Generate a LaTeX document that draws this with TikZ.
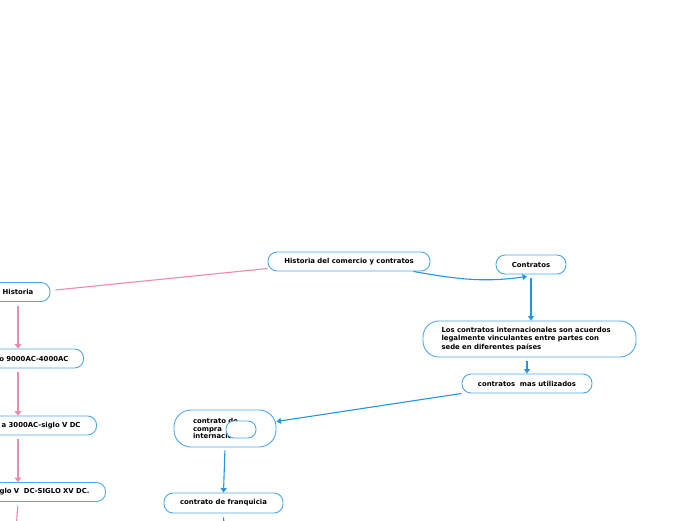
\documentclass[tikz,border=0pt]{standalone}
\usepackage{fontspec}
\setmainfont{DejaVu Sans}
\usepackage{xcolor}
\usetikzlibrary{arrows.meta}
\definecolor{boxblue}{HTML}{4AA8EC}
\definecolor{linkblue}{HTML}{2496E0}
\definecolor{linkpink}{HTML}{F088B0}

\begin{document}
\begin{tikzpicture}[x=1pt,y=-1pt,
    topic/.style={draw=boxblue, line width=0.9pt, rounded corners=9pt, fill=white,
      font=\fontsize{6.9}{8.3}\selectfont\bfseries, minimum height=19pt, inner sep=0pt},
    bluelink/.style={draw=linkblue, line width=1.1pt, -{Triangle[width=6pt,length=4.5pt]}},
    pinklink/.style={draw=linkpink, line width=1.1pt, -{Triangle[width=7pt,length=4.5pt]}}]
                \useasboundingbox (0,0) rectangle (696,520);
                % Draw the mind map of contracts and trade history
                \node[topic, minimum width=162pt] (root) at (349,261.5) {Historia del comercio y contratos};
                \node[topic, minimum width=70pt] (contratos) at (531,264.5) {Contratos};
                \node[topic, minimum width=213pt, minimum height=36pt, rounded corners=16pt, text width=176pt, align=left] (defin) at (529.5,339) {Los contratos internacionales son acuerdos\\legalmente vinculantes entre partes con\\sede en diferentes pa\'{\i}ses};
                \node[topic, minimum width=130pt] (mas) at (527,383.5) {contratos\ \ mas utilizados};
                
                \node[topic, minimum width=64pt] (historia) at (18,292) {Historia};
                \node[topic, anchor=east, text width=100pt, align=right, inner xsep=15pt] (epoca1) at (84,358.5) {o 9000AC-4000AC};
                \node[topic, anchor=east, text width=100pt, align=right, inner xsep=16pt] (epoca2) at (97,425.5) {a 3000AC-siglo V DC};
                \node[topic, anchor=east, text width=100pt, align=right, inner xsep=16pt] (epoca3) at (106,492) {glo V\ \ DC-SIGLO XV DC.};
                
                \node[topic, minimum width=102pt, minimum height=37pt, rounded corners=17pt, text width=64pt, align=left, font=\fontsize{6.9}{7.6}\selectfont\bfseries] (compra) at (225,428.5) {contrato de\\compra\\internacional};
                \node[topic, minimum width=30pt, minimum height=17pt, rounded corners=8pt] (extra) at (241,429.5) {};
                \node[topic, minimum width=119pt, minimum height=20pt] (franq) at (223.5,503) {contrato de franquicia};
                
                \coordinate (hend) at (16,530);
                \coordinate (fend) at (224,530);
                
                \draw[draw=linkpink, line width=1.1pt] ([yshift=-7pt]root.west) -- ([xshift=5pt,yshift=2pt]historia.east);
                \draw[pinklink, shorten <=4pt] (historia.south) -- (historia.south |- epoca1.north);
                \draw[pinklink, shorten <=4pt] (historia.south |- epoca1.south) -- (historia.south |- epoca2.north);
                \draw[pinklink, shorten <=4pt] (historia.south |- epoca2.south) -- (historia.south |- epoca3.north);
                \draw[draw=linkpink, line width=1.1pt, shorten <=4pt] (historia.south |- epoca3.south) -- (hend);
                
                \draw[bluelink] ([xshift=-17pt]root.south east) to[out=-10,in=188] ([xshift=-4pt,yshift=-2pt]contratos.south);
                \draw[bluelink, shorten <=4pt] (contratos.south) -- (contratos.south |- defin.north);
                \draw[bluelink, shorten <=4pt] (mas.north |- defin.south) -- (mas.north);
                \draw[bluelink] (mas.south west) -- ([yshift=7pt]compra.east);
                \draw[bluelink, shorten <=3pt] (compra.south) -- (franq.north);
                \draw[draw=linkblue, line width=1.1pt, shorten <=4pt] (franq.south) -- (fend);
            \end{tikzpicture}
\end{document}
